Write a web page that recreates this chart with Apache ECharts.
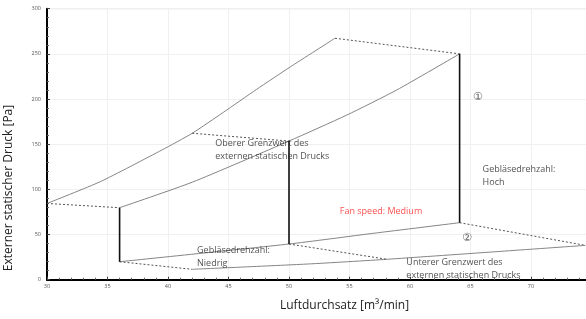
<!DOCTYPE html>
<html><head><meta charset="utf-8">
<script src="https://cdn.jsdelivr.net/npm/echarts@6/dist/echarts.min.js"></script>
<style>html,body{margin:0;padding:0;background:#fff}#c{width:586px;height:319px}</style>
</head><body><div id="c"></div><script>
// ---- data ----
const xTicks = [30, 35, 40, 45, 50, 55, 60, 65, 70, 75];
const yTicks = [0, 50, 100, 150, 200, 250, 300];
const upperHigh = [[30, 84.4], [34.4, 108.5], [39.5, 143.6], [42, 162.1], [44.6, 185.5], [47.3, 210.5], [50.1, 235.5], [53.8, 267.3]];
const upperMedium = [[36, 79.7], [42, 107.9], [50, 153.5], [54.8, 182.4], [58.9, 210], [64.1, 250]];
const lowerMedium = [[36, 19.9], [50, 39.5], [57, 51.4], [64.1, 63.1]];
const lowerLimit = [[42, 11.5], [51.6, 17.4], [58.1, 22.6], [74.5, 38]];
const dashedLinks = [
  [[30, 84.4], [36, 79.7]],
  [[42, 162.1], [50, 153.5]],
  [[53.8, 267.3], [64.1, 250]],
  [[36, 19.9], [42, 11.5]],
  [[50, 39.5], [58.1, 22.6]],
  [[64.1, 63.1], [74.5, 38]]
];
const verticals = [
  [[36, 79.7], [36, 19.9]],
  [[50, 153.5], [50, 39.5]],
  [[64.1, 250], [64.1, 63.1]]
];
const notes = [
  ['Oberer Grenzwert des\nexternen statischen Drucks', 43.9, 158],
  ['Gebläsedrehzahl:\nNiedrig', 42.4, 39.3],
  ['Gebläsedrehzahl:\nHoch', 66.0, 129],
  ['Unterer Grenzwert des\nexternen statischen Drucks', 59.7, 26.8]
];
const redNotes = [['Fan speed: Medium', 54.2, 76]];
const circled = [['①', 65.6, 202.3], ['②', 64.7, 46.2]];
const xName = 'Luftdurchsatz [m³/min]';
const yName = 'Externer statischer Druck [Pa]';

// ---- chart ----
const FONT = '"Open Sans", "Noto Sans", "DejaVu Sans", sans-serif';
const chart = echarts.init(document.getElementById('c'), null, {renderer: 'canvas'});
const series = [];
function solid(data, color, width, smooth) {
  series.push({type: 'line', data, showSymbol: false, silent: true, animation: false, smooth: smooth || false,
    lineStyle: {color, width, type: 'solid'}, z: 3});
}
solid(upperHigh, '#858585', 1, 0.2);
solid(upperMedium, '#858585', 1, 0.2);
solid(lowerMedium, '#858585', 1, 0.2);
solid(lowerLimit, '#858585', 1, 0.2);
dashedLinks.forEach(d => series.push({type: 'line', data: d, showSymbol: false, silent: true, animation: false,
  lineStyle: {color: '#555', width: 1, type: [2, 2]}, z: 3}));
verticals.forEach(d => solid(d, '#111', 1.6));
function labels(items, style, pos, align, vAlign) {
  series.push({type: 'scatter', symbolSize: 0, silent: true, animation: false, z: 5,
    data: items.map(it => ({value: [it[1], it[2]], name: it[0]})),
    label: Object.assign({show: true, position: pos, align, verticalAlign: vAlign,
      formatter: p => p.name, fontFamily: FONT}, style)});
}
labels(notes, {fontSize: 9, color: '#262626', lineHeight: 13}, [0, 0], 'left', 'top');
labels(redNotes, {fontSize: 9, color: '#ff2424'}, [0, 0], 'left', 'middle');
labels(circled, {fontSize: 11, color: '#333', fontFamily: '"DejaVu Sans", "Noto Sans CJK JP", sans-serif'}, [0, 0], 'center', 'middle');

chart.setOption({
  backgroundColor: '#fff',
  animation: false,
  grid: {left: 47, top: 8.7, right: 586 - 47 - 45 * 12.1, bottom: 39.3, show: true,
    borderColor: '#d0d0d0', borderWidth: 1, outerBoundsMode: 'none', containLabel: false},
  xAxis: {
    type: 'value', min: xTicks[0], max: xTicks[xTicks.length - 1], interval: 5,
    axisLine: {lineStyle: {color: '#000', width: 2}},
    axisTick: {show: true, inside: true, length: 3, lineStyle: {color: '#444'}},
    minorTick: {show: true, splitNumber: 5, length: 2, lineStyle: {color: '#666'}},
    axisLabel: {fontSize: 5.5, color: '#555', margin: 4, fontFamily: FONT},
    splitLine: {show: true, lineStyle: {color: '#f0f0f0', width: 1}}
  },
  yAxis: {
    type: 'value', min: yTicks[0], max: yTicks[yTicks.length - 1], interval: 50,
    axisLine: {show: true, lineStyle: {color: '#000', width: 2}},
    axisTick: {show: true, inside: true, length: 3, lineStyle: {color: '#444'}},
    minorTick: {show: true, splitNumber: 5, length: 2, lineStyle: {color: '#666'}},
    axisLabel: {fontSize: 5.5, color: '#555', margin: 6, fontFamily: FONT},
    splitLine: {show: true, lineStyle: {color: '#f0f0f0', width: 1}}
  },
  graphic: [
    {type: 'text', left: 280, top: 300, style: {text: xName, font: '12px ' + FONT, fill: '#222'}},
    {type: 'text', x: 9, y: 188, rotation: Math.PI / 2,
      style: {text: yName, font: '12px ' + FONT, fill: '#222', align: 'center', verticalAlign: 'middle'}}
  ],
  series
});
</script></body></html>
